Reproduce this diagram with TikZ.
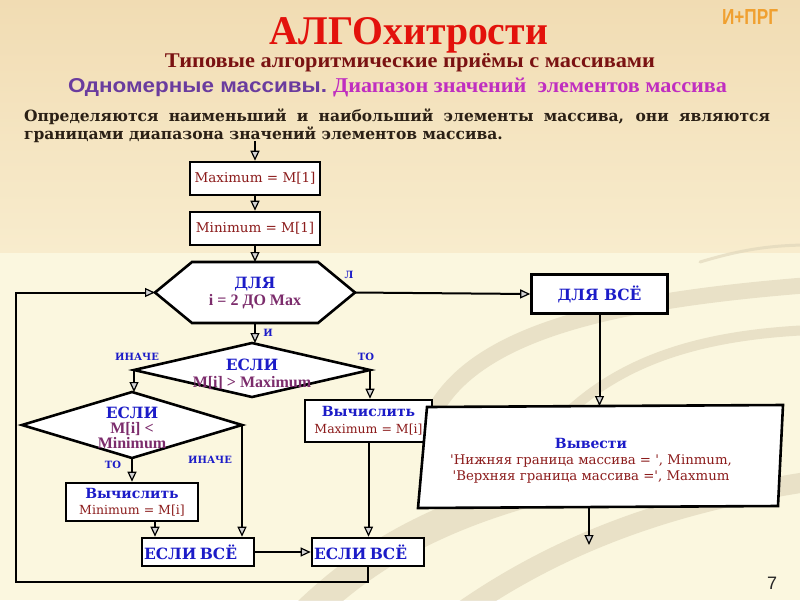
\documentclass[tikz,border=0pt]{standalone}
\usepackage{graphicx}
\usepackage{fontspec}
\setmainfont{DejaVu Serif}
\newfontfamily\dvs{DejaVu Serif}
\newfontfamily\lsb{Liberation Serif}
\newfontfamily\lss{Liberation Sans}
\usetikzlibrary{arrows.meta,calc}
\definecolor{titlered}{HTML}{E3120C}
\definecolor{subred}{HTML}{7A1212}
\definecolor{violetS}{HTML}{6A3C9E}
\definecolor{magentaS}{HTML}{C02EC0}
\definecolor{bodyc}{HTML}{2B2015}
\definecolor{orangeS}{HTML}{F0A030}
\definecolor{kblue}{HTML}{1C1CC8}
\definecolor{exred}{HTML}{8C1C1C}
\definecolor{expur}{HTML}{7C2C6C}
\definecolor{bgtop}{HTML}{F1DCB3}
\definecolor{bgmid}{HTML}{F8ECCD}
\definecolor{bglow}{HTML}{FBF7DF}
\definecolor{swooshc}{HTML}{DDD3B8}
\newcommand\mykw{\dvs\bfseries\fontsize{15.5}{17}\selectfont\color{kblue}}
\newcommand\mykws{\dvs\bfseries\fontsize{14}{16}\selectfont\color{kblue}}
\newcommand\myrd{\dvs\fontsize{13.5}{16}\selectfont\color{exred}}
\newcommand\myrds{\dvs\fontsize{12.5}{15}\selectfont\color{exred}}
\newcommand\myrdo{\dvs\fontsize{13.3}{15}\selectfont\color{exred}}
\newcommand\mypu{\lsb\bfseries\fontsize{16}{17}\selectfont\color{expur}}
\newcommand\mylb{\dvs\bfseries\fontsize{10}{12}\selectfont\color{kblue}}
\newcommand\mybody{\dvs\bfseries\fontsize{15.5}{18}\selectfont\color{bodyc}}
\begin{document}
\begin{tikzpicture}[x=1pt,y=-1pt,
  shapebox/.style={draw=black,line width=2.6pt,fill=white,inner sep=0pt},
  shapeline/.style={draw=black,line width=2.6pt,fill=white},
  hidden/.style={inner sep=0pt,outer sep=0pt},
  conn/.style={line width=2pt,draw=black,-{Triangle[length=10pt,width=9pt,fill=gray!35,line width=1.2pt]}},
  lab/.style={inner sep=0pt,font=\mylb},
  txt/.style={inner sep=0pt,align=center,font={\fontsize{15}{17}\selectfont}}]
\useasboundingbox (0,0) rectangle (800,600);
% background
\fill[bglow] (0,0) rectangle (800,600);
\shade[top color=bgtop,bottom color=bgmid] (0,0) rectangle (800,252);
\begin{scope}
\clip (0,0) rectangle (800,600);
\begin{scope}[draw=swooshc,line cap=round,opacity=0.6]
\draw[line width=16pt] (430,420) .. controls (470,330) and (620,300) .. (810,285);
\draw[line width=10pt] (560,420) .. controls (620,360) and (700,335) .. (810,330);
\draw[line width=30pt] (300,620) .. controls (380,540) and (470,500) .. (620,470);
\draw[line width=20pt] (450,620) .. controls (560,540) and (680,500) .. (820,480);
\draw[line width=3pt] (700,262) .. controls (740,250) and (770,245) .. (810,245);
\end{scope}
\end{scope}
% header texts
\node[hidden,anchor=base] (title) at (409,44) {\resizebox{278pt}{27pt}{\lsb\bfseries\color{titlered}АЛГОхитрости}};
\node[hidden,anchor=base east] (brand) at (778,24) {\resizebox{56pt}{15pt}{\lss\bfseries\color{orangeS}И+ПРГ}};
\node[hidden,anchor=base] (sub) at (410,67) {\resizebox{490pt}{14pt}{\lsb\bfseries\color{subred}Типовые алгоритмические приёмы с массивами}};
\node[hidden,anchor=base west] (sec) at (68,92) {\resizebox{259pt}{14pt}{\lss\bfseries\color{violetS}Одномерные массивы.}};
\node[hidden,anchor=base west] (topic) at (333,92) {\resizebox{394pt}{14.5pt}{\lsb\bfseries\color{magentaS}Диапазон значений\ \ элементов массива}};
\node[hidden,anchor=base west] (body1) at (24,121) {\makebox[746pt][s]{\mybody Определяются наименьший и наибольший элементы массива, они являются}};
\node[hidden,anchor=base west] (body2) at (24,139) {\mybody границами диапазона значений элементов массива.};
\node[hidden] (pageno) at (772,583) {\lss\fontsize{18}{18}\selectfont\color{black!85}7};
% flowchart shapes
\coordinate (start) at (255,141);
\node[shapebox,minimum width=130pt,minimum height=33pt] (maxb) at (255,178.5) {\myrd Maximum = M[1]};
\node[shapebox,minimum width=130pt,minimum height=33pt] (minb) at (255,228.5) {\myrd Minimum = M[1]};
\node[hidden,minimum width=200pt,minimum height=61pt] (loop) at (255,292.5) {};
\draw[shapeline] ($(loop.north west)+(37,0)$) -- ($(loop.north east)+(-37,0)$) -- (loop.east) -- ($(loop.south east)+(-37,0)$) -- ($(loop.south west)+(37,0)$) -- (loop.west) -- cycle;
\node[txt] (looptxt) at (255,293) {{\mykw ДЛЯ}\\{\mypu i = 2 ДО Max}};
\node[shapebox,minimum width=136pt,minimum height=39pt] (forall) at (599.5,294) {\mykw ДЛЯ ВСЁ};
\node[hidden,minimum width=236pt,minimum height=54pt] (d1) at (252,370) {};
\draw[shapeline] (d1.north) -- (d1.east) -- (d1.south) -- (d1.west) -- cycle;
\node[txt] (d1txt) at (252,374) {{\mykw ЕСЛИ}\\{\mypu M[i] > Maximum}};
\node[hidden,minimum width=220pt,minimum height=66pt] (d2) at (132,425) {};
\draw[shapeline] (d2.north) -- (d2.east) -- (d2.south) -- (d2.west) -- cycle;
\node[txt,font={\fontsize{15}{15}\selectfont}] (d2txt) at (132,428) {{\mykw ЕСЛИ}\\{\mypu M[i] <}\\{\mypu Minimum}};
\node[shapebox,minimum width=127pt,minimum height=42pt,align=center,font={\fontsize{14}{17}\selectfont}] (calcmax) at (368.5,421) {{\mykws Вычислить}\\{\myrds Maximum = M[i]}};
\node[hidden,minimum width=360pt,minimum height=100pt] (outb) at (600,456) {};
\draw[shapeline] (427,407) -- (783,405) -- (778,506) -- (418,508) -- cycle;
\node[txt,font={\fontsize{13}{16}\selectfont}] (outtxt) at (591,461) {{\mykws Вывести}\\{\myrdo \textquotesingle Нижняя граница массива = \textquotesingle, Minmum,}\\{\myrdo \textquotesingle Верхняя граница массива =\textquotesingle, Maxmum}};
\node[shapebox,minimum width=132pt,minimum height=38pt,align=center,font={\fontsize{14}{16}\selectfont}] (calcmin) at (132,502) {{\mykws Вычислить}\\{\myrds Minimum = M[i]}};
\node[shapebox,minimum width=112pt,minimum height=28pt,text width=108pt,align=left] (endif1) at (198,552) {\mykw ЕСЛИ ВСЁ};
\node[shapebox,minimum width=112pt,minimum height=28pt,text width=108pt,align=left] (endif2) at (368,552) {\mykw ЕСЛИ ВСЁ};
% labels
\node[lab] (l1) at (137,357) {ИНАЧЕ};
\node[lab] (l2) at (366,357) {ТО};
\node[lab] (l3) at (113,465) {ТО};
\node[lab] (l4) at (210,460) {ИНАЧЕ};
\node[lab] (lL) at (349,275) {Л};
\node[lab] (lI) at (268,333) {И};
% connectors
\draw[conn] (start) -- (maxb.north);
\draw[conn] (maxb.south) -- (minb.north);
\draw[conn] (minb.south) -- (loop.north);
\draw[conn] (loop.east) -- (forall.west);
\draw[conn] (forall.south) -- (forall.south |- outb.north);
\coordinate (outend) at (589,545);
\draw[conn] (outend |- outb.south) -- (outend);
\draw[conn] (loop.south) -- (loop.south |- d1.north);
\draw[conn] (d1.west) -- (d1.west |- d2.north);
\draw[conn] (d1.east) -- (d1.east |- calcmax.north);
\draw[conn] (d2.south) -- (d2.south |- calcmin.north);
\draw[conn] (d2.east) -- (d2.east |- endif1.north);
\coordinate (minout) at (155,521);
\draw[conn] (minout |- calcmin.south) -- (minout |- endif1.north);
\draw[conn] (calcmax.south) -- (calcmax.south |- endif2.north);
\draw[conn] (endif1.east) -- (endif2.west);
\coordinate (back) at (16,582);
\draw[conn] (endif2.south) |- (back) |- (loop.west);
\end{tikzpicture}
\end{document}
